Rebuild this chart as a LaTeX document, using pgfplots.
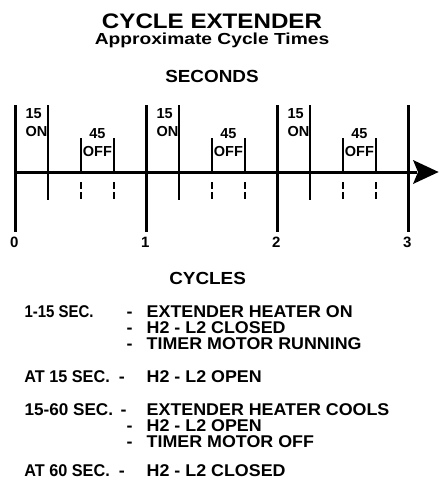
\documentclass[border=0pt]{standalone}
\usepackage{pgfplots}
\pgfplotsset{compat=1.18}
\usepackage{fontspec}
\setmainfont{Liberation Sans}
\begin{document}
\begin{tikzpicture}
\begin{axis}[
  width=439pt, height=480pt, scale only axis,
  xmin=-7.099, xmax=193.97, ymin=0, ymax=480, y dir=reverse,
  hide axis, clip=false, enlargelimits=false,
  every node/.append style={inner sep=0pt, outer sep=0pt},
]
% cycle boundaries (seconds)
\addplot[black, line width=3.5pt] coordinates {(0,105) (0,232)};
\addplot[black, line width=3.5pt] coordinates {(60,105) (60,232)};
\addplot[black, line width=3.5pt] coordinates {(120,105) (120,232)};
\addplot[black, line width=3.5pt] coordinates {(180,105) (180,232)};
% 15 s marks
\addplot[black, line width=2.2pt] coordinates {(15,105) (15,200)};
\addplot[black, line width=2.2pt] coordinates {(75,105) (75,200)};
\addplot[black, line width=2.2pt] coordinates {(135,105) (135,200)};
% 30 / 45 s brackets above
\addplot[black, line width=2pt] coordinates {(30,138) (30,172)};
\addplot[black, line width=2pt] coordinates {(45,138) (45,172)};
\addplot[black, line width=2pt] coordinates {(90,138) (90,172)};
\addplot[black, line width=2pt] coordinates {(105,138) (105,172)};
\addplot[black, line width=2pt] coordinates {(150,138) (150,172)};
\addplot[black, line width=2pt] coordinates {(165,138) (165,172)};
% dashed below
\addplot[black, line width=2pt, dash pattern=on 7pt off 3pt] coordinates {(30,182) (30,199)};
\addplot[black, line width=2pt, dash pattern=on 7pt off 3pt] coordinates {(45,182) (45,199)};
\addplot[black, line width=2pt, dash pattern=on 7pt off 3pt] coordinates {(90,182) (90,199)};
\addplot[black, line width=2pt, dash pattern=on 7pt off 3pt] coordinates {(105,182) (105,199)};
\addplot[black, line width=2pt, dash pattern=on 7pt off 3pt] coordinates {(150,182) (150,199)};
\addplot[black, line width=2pt, dash pattern=on 7pt off 3pt] coordinates {(165,182) (165,199)};
% time axis
\addplot[black, line width=3pt] coordinates {(-0.5,172) (184,172)};
\addplot[fill=black, draw=none] coordinates {(182.06,160) (193.8,172) (182.06,184) (184.35,172) (182.06,160)};

% labels above line
\node[anchor=base west, font=\fontsize{14.5}{14.5}\selectfont\bfseries] at (axis cs:3,118) {15};
\node[anchor=base west, font=\fontsize{14.5}{14.5}\selectfont\bfseries] at (axis cs:3,136) {ON};
\node[anchor=base west, font=\fontsize{14.5}{14.5}\selectfont\bfseries] at (axis cs:63,118) {15};
\node[anchor=base west, font=\fontsize{14.5}{14.5}\selectfont\bfseries] at (axis cs:63,136) {ON};
\node[anchor=base west, font=\fontsize{14.5}{14.5}\selectfont\bfseries] at (axis cs:123,118) {15};
\node[anchor=base west, font=\fontsize{14.5}{14.5}\selectfont\bfseries] at (axis cs:123,136) {ON};
\node[anchor=base, font=\fontsize{14.5}{14.5}\selectfont\bfseries] at (axis cs:37.5,138) {45};
\node[anchor=base, font=\fontsize{14.5}{14.5}\selectfont\bfseries] at (axis cs:37.5,156) {OFF};
\node[anchor=base, font=\fontsize{14.5}{14.5}\selectfont\bfseries] at (axis cs:97.5,138) {45};
\node[anchor=base, font=\fontsize{14.5}{14.5}\selectfont\bfseries] at (axis cs:97.5,156) {OFF};
\node[anchor=base, font=\fontsize{14.5}{14.5}\selectfont\bfseries] at (axis cs:157.5,138) {45};
\node[anchor=base, font=\fontsize{14.5}{14.5}\selectfont\bfseries] at (axis cs:157.5,156) {OFF};
% cycle numbers
\node[anchor=base, font=\fontsize{15}{15}\selectfont\bfseries] at (axis cs:-0.5,247) {0};
\node[anchor=base, font=\fontsize{15}{15}\selectfont\bfseries] at (axis cs:59.5,247) {1};
\node[anchor=base, font=\fontsize{15}{15}\selectfont\bfseries] at (axis cs:119.5,247) {2};
\node[anchor=base, font=\fontsize{15}{15}\selectfont\bfseries] at (axis cs:179.5,247) {3};

% titles
\node[anchor=base, xscale=1.15, font=\fontsize{21}{21}\selectfont\bfseries] at (axis cs:90,28) {CYCLE EXTENDER};
\node[anchor=base, xscale=1.2, font=\fontsize{16}{16}\selectfont\bfseries] at (axis cs:90,44) {Approximate Cycle Times};
\node[anchor=base, xscale=1.08, font=\fontsize{17.5}{17.5}\selectfont\bfseries] at (axis cs:90,82) {SECONDS};
\node[anchor=base, xscale=1.08, font=\fontsize{17.5}{17.5}\selectfont\bfseries] at (axis cs:88,284) {CYCLES};

% description
\begin{scope}[every node/.append style={anchor=base west, xscale=1.05, font=\fontsize{17}{17}\selectfont\bfseries}]
\node[xscale=0.84] at (axis cs:2.7,317) {1-15 SEC.};
\node at (axis cs:49.2,317) {-};
\node at (axis cs:58.4,317) {EXTENDER HEATER ON};
\node at (axis cs:49.2,333) {-};
\node at (axis cs:58.4,333) {H2 - L2 CLOSED};
\node at (axis cs:49.2,349) {-};
\node at (axis cs:58.4,349) {TIMER MOTOR RUNNING};
\node[xscale=0.91] at (axis cs:2.5,382) {AT 15 SEC.};
\node at (axis cs:45.6,382) {-};
\node at (axis cs:58.4,382) {H2 - L2 OPEN};
\node[xscale=0.96] at (axis cs:2.5,415) {15-60 SEC.};
\node at (axis cs:46.5,415) {-};
\node at (axis cs:58.4,415) {EXTENDER HEATER COOLS};
\node at (axis cs:49.2,431) {-};
\node at (axis cs:58.4,431) {H2 - L2 OPEN};
\node at (axis cs:49.2,447) {-};
\node at (axis cs:58.4,447) {TIMER MOTOR OFF};
\node[xscale=0.91] at (axis cs:2.5,476) {AT 60 SEC.};
\node at (axis cs:45.6,476) {-};
\node at (axis cs:58.4,476) {H2 - L2 CLOSED};
\end{scope}
\end{axis}
\pgfresetboundingbox
\path (current axis.south west) rectangle (current axis.north east);
\end{tikzpicture}
\end{document}
